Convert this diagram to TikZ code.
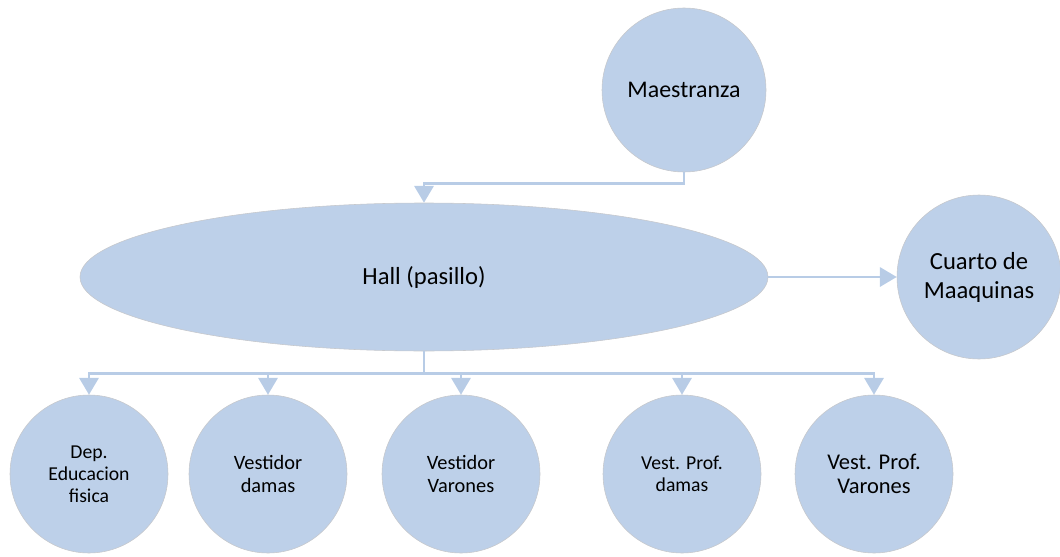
\documentclass[tikz,border=0pt]{standalone}
\usepackage{fontspec}
\setmainfont{Carlito}
\usepackage{tikz}
\usetikzlibrary{arrows.meta,shapes.geometric}

\definecolor{roomfill}{RGB}{189,208,233}
\definecolor{roomedge}{RGB}{198,200,204}
\definecolor{linkblue}{RGB}{184,204,230}

\begin{document}
\begin{tikzpicture}[
    room/.style={circle,fill=roomfill,draw=roomedge,line width=.4pt,inner sep=0pt,
      minimum size=3.95cm,align=center,font=\fontsize{14.5}{15.8}\selectfont},
    bigroom/.style={room,minimum size=4.1cm,font=\fontsize{17}{20.6}\selectfont},
    link/.style={linkblue,line width=1.8pt,-{Triangle[width=.48cm,length=.42cm]}}]
  \useasboundingbox (0,0) rectangle (26.5,13.9);
  % rooms
  \node[bigroom] (M) at (17.1,11.65) {Maestranza};
  \node[ellipse,fill=roomfill,draw=roomedge,line width=.4pt,inner sep=0pt,
    minimum width=17.2cm,minimum height=3.7cm,font=\fontsize{17.5}{20}\selectfont] (H) at (10.6,6.975) {Hall (pasillo)};
  \node[bigroom,font=\fontsize{17.5}{20.6}\selectfont] (C) at (24.475,6.975) {Cuarto de\\Maaquinas};
  \node[room,font=\fontsize{14}{15.6}\selectfont] (D1) at (2.225,2.05) {Dep.\\Educacion\\fisica};
  \node[room] (D2) at (6.7,2.05) {Vestidor\\damas};
  \node[room] (D3) at (11.525,2.05) {Vestidor\\Varones};
  \node[room,font=\fontsize{14}{15.8}\selectfont] (D4) at (17.05,2.05) {Vest. Prof.\\damas};
  \node[room,font=\fontsize{16}{17.2}\selectfont] (D5) at (21.85,2.05) {Vest. Prof.\\Varones};
  % links
  \draw[link] (M.south) -- ++(0,-.275) -| (H.north);
  \draw[link] (H.east) -- (C.west);
  \draw[linkblue,line width=1.8pt] (H.south) -- ++(0,-.55) coordinate (bus);
  \foreach \d in {D1,D2,D3,D4,D5}
    \draw[link] (bus) -| (\d.north);
\end{tikzpicture}
\end{document}
